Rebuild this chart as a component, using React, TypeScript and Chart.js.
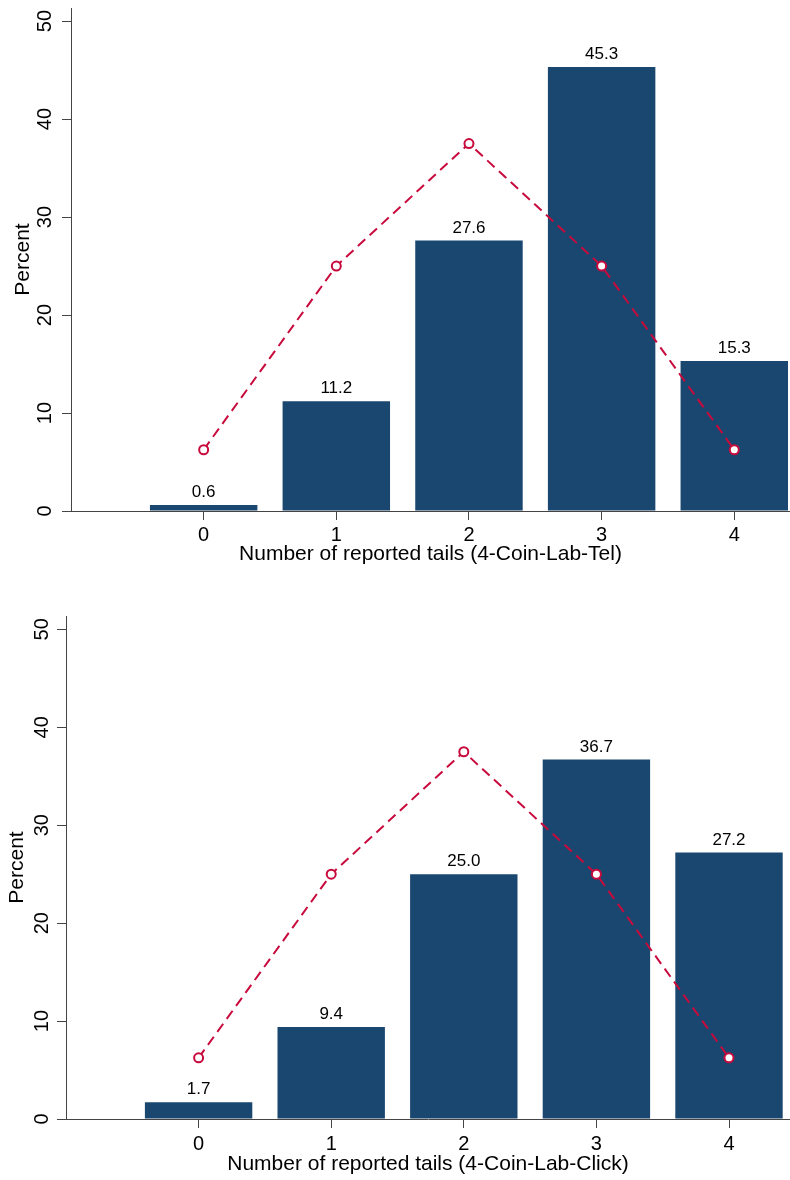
import React, { useEffect, useRef } from 'react';
import { Chart, registerables } from 'chart.js';

Chart.register(...registerables);

// ---- data ----
const categories = [0, 1, 2, 3, 4];
const xTickValues = [0, 1, 2, 3, 4];
const yTickValues = [0, 10, 20, 30, 40, 50];
const telPercent = [0.6, 11.2, 27.6, 45.3, 15.3];
const clickPercent = [1.7, 9.4, 25.0, 36.7, 27.2];
const binomialPercent = [6.25, 25, 37.5, 25, 6.25];
const telTitle = 'Number of reported tails (4-Coin-Lab-Tel)';
const clickTitle = 'Number of reported tails (4-Coin-Lab-Click)';
const yTitle = 'Percent';

const FONT = '"Liberation Sans", Arial, Helvetica, sans-serif';
const BAR_COLOR = '#1a476f';
const LINE_COLOR = '#c80a3c';
const AXIS_COLOR = '#444444';

Chart.defaults.font.family = FONT;
Chart.defaults.color = '#000';

type Spec = {
  canvasTop: number;
  padTop: number;
  yWidth: number;
  xHeight: number;
  xMin: number;
  xMax: number;
  yMax: number;
  yTickPad: number;
  yTitlePad: number;
  xTickPad: number;
  xTitlePad: number;
};

const barLabelPlugin = {
  id: 'barLabels',
  afterDatasetsDraw(chart: any) {
    const ctx = chart.ctx;
    chart.data.datasets.forEach((ds: any, i: number) => {
      if (ds.type !== 'bar') return;
      const meta = chart.getDatasetMeta(i);
      ctx.save();
      ctx.font = `17px ${FONT}`;
      ctx.fillStyle = '#000';
      ctx.textAlign = 'center';
      ctx.textBaseline = 'alphabetic';
      meta.data.forEach((el: any, j: number) => {
        const v = ds.data[j].y as number;
        ctx.fillText(v.toFixed(1), el.x, el.y - 8);
      });
      ctx.restore();
    });
  },
};

function makeConfig(values: number[], xTitle: string, spec: Spec): any {
  return {
    type: 'bar',
    data: {
      datasets: [
        {
          type: 'line',
          data: categories.map((c, i) => ({ x: c, y: binomialPercent[i] })),
          borderColor: LINE_COLOR,
          borderWidth: 2,
          borderDash: [10, 6],
          pointRadius: 4.5,
          pointBorderWidth: 2,
          pointBackgroundColor: '#ffffff',
          pointBorderColor: LINE_COLOR,
          fill: false,
          tension: 0,
          order: 0,
        },
        {
          type: 'bar',
          data: categories.map((c, i) => ({ x: c, y: values[i] })),
          backgroundColor: BAR_COLOR,
          borderWidth: 0,
          barPercentage: 0.81,
          categoryPercentage: 1,
          order: 1,
        },
      ],
    },
    options: {
      animation: false,
      responsive: false,
      devicePixelRatio: 1,
      layout: { autoPadding: false, padding: { top: spec.padTop, left: 0, right: 0, bottom: 0 } },
      plugins: { legend: { display: false }, tooltip: { enabled: false } },
      scales: {
        x: {
          type: 'linear',
          min: spec.xMin,
          max: spec.xMax,
          offset: false,
          afterBuildTicks: (s: any) => {
            s.ticks = xTickValues.map((v) => ({ value: v }));
          },
          afterFit: (s: any) => {
            s.height = spec.xHeight;
            s.paddingLeft = 0;
            s.paddingRight = 0;
          },
          ticks: {
            padding: spec.xTickPad,
            font: { size: 20 },
            color: '#000',
            autoSkip: false,
            maxRotation: 0,
            callback: (v: any) => String(v),
          },
          grid: { drawOnChartArea: false, drawTicks: true, tickLength: 9, color: AXIS_COLOR, offset: false },
          border: { display: true, color: AXIS_COLOR, width: 1 },
          title: {
            display: true,
            text: xTitle,
            font: { size: 21 },
            color: '#000',
            padding: { top: 0, bottom: spec.xTitlePad },
          },
        },
        y: {
          type: 'linear',
          min: 0,
          max: spec.yMax,
          afterBuildTicks: (s: any) => {
            s.ticks = yTickValues.map((v) => ({ value: v }));
          },
          afterFit: (s: any) => {
            s.width = spec.yWidth;
            s.paddingTop = 0;
            s.paddingBottom = 0;
          },
          ticks: {
            minRotation: 90,
            maxRotation: 90,
            crossAlign: 'center',
            padding: spec.yTickPad,
            font: { size: 20 },
            color: '#000',
            autoSkip: false,
          },
          grid: { drawOnChartArea: false, drawTicks: true, tickLength: 9, color: AXIS_COLOR },
          border: { display: true, color: AXIS_COLOR, width: 1 },
          title: {
            display: true,
            text: yTitle,
            font: { size: 21 },
            color: '#000',
            padding: { top: spec.yTitlePad, bottom: 0 },
          },
        },
      },
    },
    plugins: [barLabelPlugin],
  };
}

function PanelChart({ values, xTitle, spec }: { values: number[]; xTitle: string; spec: Spec }) {
  const ref = useRef<HTMLCanvasElement | null>(null);
  useEffect(() => {
    if (!ref.current) return;
    const chart = new Chart(ref.current, makeConfig(values, xTitle, spec));
    return () => chart.destroy();
  }, []);
  return (
    <canvas
      ref={ref}
      width={790}
      height={590}
      style={{ position: 'absolute', left: 0, top: spec.canvasTop, width: 790, height: 590 }}
    />
  );
}

const topSpec: Spec = {
  canvasTop: 0,
  padTop: 8,
  yWidth: 71,
  xHeight: 79,
  xMin: -1,
  xMax: 4.42,
  yMax: 51.33,
  yTickPad: 5,
  yTitlePad: 11,
  xTickPad: 3.5,
  xTitlePad: 23,
};

const bottomSpec: Spec = {
  canvasTop: 590,
  padTop: 26,
  yWidth: 66,
  xHeight: 61,
  xMin: -1,
  xMax: 4.46,
  yMax: 51.36,
  yTickPad: 3,
  yTitlePad: 5,
  xTickPad: 4,
  xTitlePad: 3,
};

export default function App() {
  return (
    <div style={{ position: 'absolute', left: 0, top: 0, width: 790, height: 1180, background: '#fff' }}>
      <PanelChart values={telPercent} xTitle={telTitle} spec={topSpec} />
      <PanelChart values={clickPercent} xTitle={clickTitle} spec={bottomSpec} />
    </div>
  );
}
